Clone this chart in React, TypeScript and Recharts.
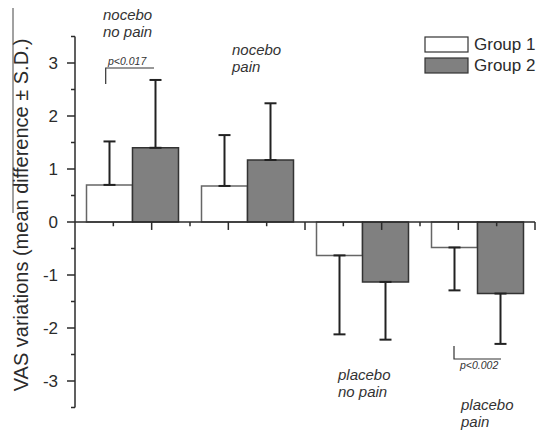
import React from "react";
import {
  BarChart,
  Bar,
  XAxis,
  YAxis,
  ErrorBar,
  ReferenceLine,
} from "recharts";

// draw edge to edge in the 541x432 window, no scrollbars
document.body.style.margin = "0";
document.body.style.overflow = "hidden";

// conditions along the x axis
const conditions = ["nocebo no pain", "nocebo pain", "placebo no pain", "placebo pain"];

// mean VAS difference per group
const group1Means = [0.7, 0.68, -0.63, -0.48];
const group2Means = [1.4, 1.17, -1.13, -1.35];

// standard deviations (drawn one-sided, away from zero)
const group1Sd = [0.82, 0.96, 1.49, 0.81];
const group2Sd = [1.28, 1.07, 1.09, 0.95];

const yTicks = [-3.5, -3, -2.5, -2, -1.5, -1, -0.5, 0, 0.5, 1, 1.5, 2, 2.5, 3, 3.5];
const xMinorTicks = [0.25, 0.5, 0.75, 1, 1.25, 1.5, 1.75, 2, 2.25, 2.5, 2.75, 3, 3.25, 3.5, 3.75];

const oneSided = (mean: number, sd: number) => (mean >= 0 ? [0, sd] : [sd, 0]);

const data = conditions.map((name, i) => ({
  name,
  g1: group1Means[i],
  g2: group2Means[i],
  g1Err: oneSided(group1Means[i], group1Sd[i]),
  g2Err: oneSided(group2Means[i], group2Sd[i]),
}));

const FONT = '"Liberation Sans", Arial, Helvetica, sans-serif';
const INK = "#2b2b2b";

function YTick(props: any) {
  const { x, y, payload } = props;
  const v = payload.value;
  const major = Number.isInteger(v);
  return (
    <g>
      <line x1={x - (major ? 8 : 4)} x2={x} y1={y} y2={y} stroke={INK} strokeWidth={1.5} />
      {major && (
        <text
          x={x - 17}
          y={y}
          textAnchor="end"
          dominantBaseline="central"
          fontSize={17}
          fontFamily={FONT}
          fill={INK}
        >
          {v}
        </text>
      )}
    </g>
  );
}

const italic = { fontFamily: FONT, fontStyle: "italic" as const, fill: "#333" };

export default function App() {
  return (
    <div style={{ position: "relative", width: 541, height: 432, background: "#fff" }}>
      <BarChart
        width={541}
        height={432}
        data={data}
        margin={{ top: 36.5, right: 6, bottom: 24.5, left: 15 }}
        barCategoryGap="10%"
        barGap={0}
      >
        <XAxis dataKey="name" hide />
        <XAxis xAxisId="n" type="number" domain={[0, 4]} hide />
        <YAxis
          width={60}
          domain={[-3.5, 3.5]}
          ticks={yTicks}
          interval={0}
          tickLine={false}
          tickSize={0}
          tickMargin={0}
          tick={<YTick />}
          axisLine={{ stroke: INK, strokeWidth: 1.5 }}
        />
        <Bar dataKey="g1" fill="#ffffff" stroke="#666" strokeWidth={1.5} isAnimationActive={false}>
          <ErrorBar dataKey="g1Err" width={6} stroke="#222" strokeWidth={2} direction="y" />
        </Bar>
        <Bar dataKey="g2" fill="#808080" stroke="#333" strokeWidth={1.5} isAnimationActive={false}>
          <ErrorBar dataKey="g2Err" width={6} stroke="#222" strokeWidth={2} direction="y" />
        </Bar>
        <ReferenceLine y={0} stroke={INK} strokeWidth={1.5} />
        {xMinorTicks.map((t) => (
          <ReferenceLine
            key={t}
            xAxisId="n"
            segment={[
              { x: t, y: 0 },
              { x: t, y: t % 0.5 === 0 ? -0.15 : -0.08 },
            ]}
            stroke={INK}
            strokeWidth={1.5}
          />
        ))}
      </BarChart>

      <svg
        width={541}
        height={432}
        style={{ position: "absolute", left: 0, top: 0, pointerEvents: "none" }}
      >
        <line x1={13} x2={13} y1={8} y2={213} stroke="#444" strokeWidth={1} />
        <text
          x={21}
          y={215}
          transform="rotate(-90 21 215)"
          textAnchor="middle"
          dominantBaseline="central"
          fontSize={20}
          fontFamily={FONT}
          fill={INK}
        >
          VAS variations (mean difference ± S.D.)
        </text>

        <rect x={425} y={37} width={43} height={15} fill="#fff" stroke="#333" strokeWidth={1.2} />
        <rect x={425} y={58} width={43} height={15} fill="#808080" stroke="#333" strokeWidth={1.2} />
        <text x={474} y={50} fontSize={17} fontFamily={FONT} fill={INK}>Group 1</text>
        <text x={474} y={71} fontSize={17} fontFamily={FONT} fill={INK}>Group 2</text>

        <g fontSize={15} {...italic}>
          <text x={103} y={20}>nocebo</text>
          <text x={103} y={37}>no pain</text>
          <text x={232} y={55}>nocebo</text>
          <text x={232} y={72}>pain</text>
          <text x={338} y={380}>placebo</text>
          <text x={338} y={397}>no pain</text>
          <text x={461} y={410}>placebo</text>
          <text x={461} y={427}>pain</text>
        </g>

        <path d="M105.7,84 V68 H154" fill="none" stroke="#333" strokeWidth={1.2} />
        <text x={108} y={65} fontSize={10.5} {...italic}>p&lt;0.017</text>
        <path d="M454,346 V359 H501" fill="none" stroke="#333" strokeWidth={1.2} />
        <text x={460} y={369} fontSize={10.5} {...italic}>p&lt;0.002</text>
      </svg>
    </div>
  );
}
